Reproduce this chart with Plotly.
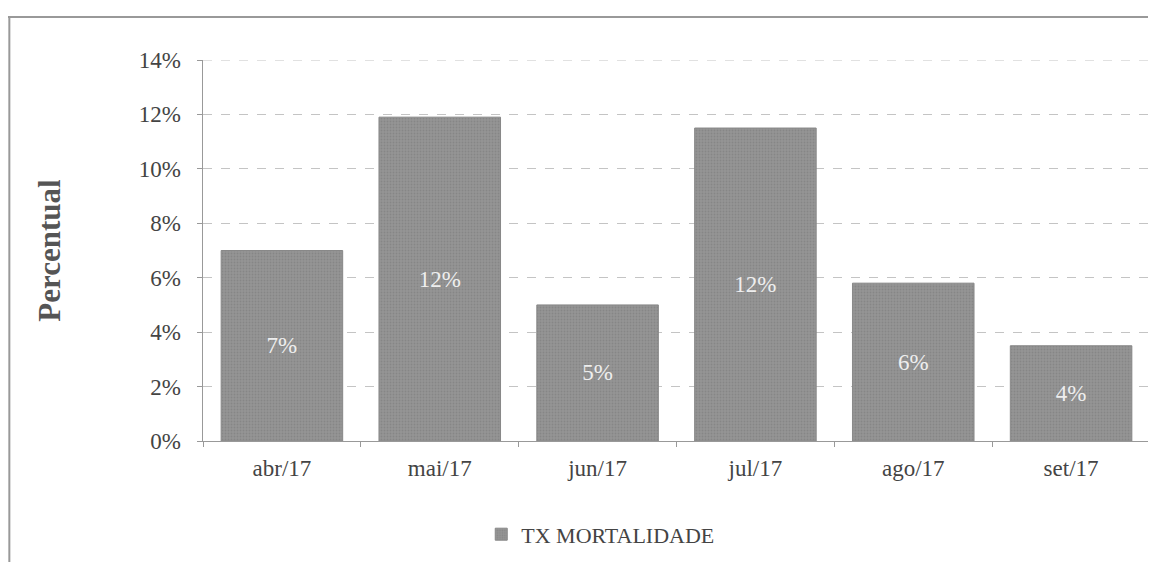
import plotly.graph_objects as go

meses = ["abr/17", "mai/17", "jun/17", "jul/17", "ago/17", "set/17"]
tx_mortalidade = [0.070, 0.119, 0.050, 0.115, 0.058, 0.035]
rotulos = ["7%", "12%", "5%", "12%", "6%", "4%"]

fonte = "Liberation Serif"

fig = go.Figure()
fig.add_trace(go.Bar(
    x=meses, y=tx_mortalidade, name="TX MORTALIDADE",
    text=rotulos, textposition="inside", insidetextanchor="middle",
    textfont=dict(family=fonte, size=23, color="#eeeeee"),
    marker=dict(color="#959595", line=dict(color="#888888", width=1),
                pattern=dict(shape=".", size=3, solidity=0.3, fgcolor="#777777")),
    width=0.77,
))

fig.update_layout(
    width=1156, height=562,
    paper_bgcolor="white", plot_bgcolor="white",
    margin=dict(l=195, r=14, t=52, b=129),
    font=dict(family=fonte, size=22, color="#444444"),
    showlegend=True,
    legend=dict(orientation="h", x=0.42, xanchor="center", y=-0.19, yanchor="top",
                font=dict(family=fonte, size=22, color="#444444"),
                itemwidth=30),
    xaxis=dict(showline=True, linecolor="#999999", linewidth=1, ticks="outside",
               tickson="boundaries", ticklen=5, tickcolor="#999999",
               tickfont=dict(size=23), ticklabelstandoff=6, automargin=False),
    yaxis=dict(range=[0, 0.14], dtick=0.02, tickformat=".0%", showline=True,
               linecolor="#999999", ticks="outside", ticklen=5, tickcolor="#999999",
               showgrid=True, gridcolor="#c4c4c4", griddash="dash", zeroline=False,
               tickfont=dict(size=23), ticksuffix="  ", automargin=False,
               title=dict(text="<b>Percentual</b>", font=dict(size=31, color="#555555"),
                          standoff=68)),
    bargap=0.23,
)

# linha de grade no topo (14%)
fig.add_shape(type="line", xref="paper", yref="y", x0=0, x1=1, y0=0.14, y1=0.14,
              line=dict(color="#c4c4c4", width=1, dash="dash"))

# moldura do grafico (borda superior e esquerda visiveis)
fig.add_shape(type="line", xref="paper", yref="paper", x0=-0.21, x1=1.1, y0=1.113, y1=1.113,
              line=dict(color="#999999", width=2))
fig.add_shape(type="line", xref="paper", yref="paper", x0=-0.2045, x1=-0.2045, y0=-0.35, y1=1.113,
              line=dict(color="#999999", width=2))

fig.write_html("out.html")
